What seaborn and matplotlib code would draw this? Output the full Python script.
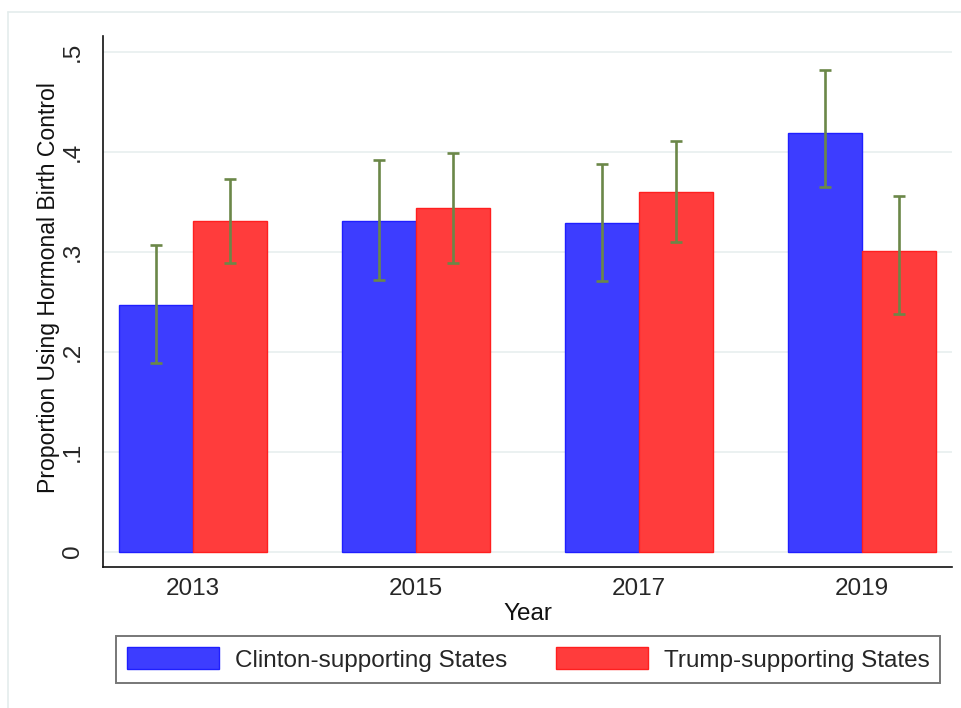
import numpy as np
import pandas as pd
import matplotlib.pyplot as plt
import matplotlib.lines as mlines
import seaborn as sns

# ── data ────────────────────────────────────────────────────────────
years = ["2013", "2015", "2017", "2019"]
groups = ["Clinton-supporting States", "Trump-supporting States"]

clinton = np.array([0.247, 0.331, 0.329, 0.419])
clinton_lo = np.array([0.189, 0.272, 0.271, 0.365])
clinton_hi = np.array([0.307, 0.392, 0.388, 0.482])

trump = np.array([0.331, 0.344, 0.360, 0.301])
trump_lo = np.array([0.289, 0.289, 0.310, 0.238])
trump_hi = np.array([0.373, 0.399, 0.411, 0.356])

yticks = [0, 0.1, 0.2, 0.3, 0.4, 0.5]
ytick_labels = ["0", ".1", ".2", ".3", ".4", ".5"]

# ── colours ─────────────────────────────────────────────────────────
blue = "#3d3dff"
red = "#ff3c3c"
ci_green = "#6b8748"
grid_col = "#e8efef"

df = pd.DataFrame({
    "Year": years * 2,
    "Proportion": np.concatenate([clinton, trump]),
    "Group": [groups[0]] * len(years) + [groups[1]] * len(years),
})

# ── figure ──────────────────────────────────────────────────────────
sns.set_style("white")
plt.rcParams["font.family"] = ["Liberation Sans", "DejaVu Sans"]

fig = plt.figure(figsize=(9.61, 7.08), dpi=100)
ax = fig.add_axes([103 / 961, 1 - 567 / 708, (952 - 103) / 961, (567 - 36) / 708])

sns.barplot(
    data=df, x="Year", y="Proportion", hue="Group",
    palette=[blue, red], saturation=1, width=0.66, gap=0, errorbar=None,
    legend=False, ax=ax, zorder=2,
)

# bar edges a shade darker
for cont, ec in zip(ax.containers, ["#1f1fff", "#ff1f1f"]):
    for p in cont:
        p.set_edgecolor(ec)
        p.set_linewidth(1.0)

# confidence intervals
for cont, vals, lo, hi in zip(ax.containers, [clinton, trump],
                              [clinton_lo, trump_lo], [clinton_hi, trump_hi]):
    xs = [p.get_x() + p.get_width() / 2 for p in cont]
    ax.errorbar(xs, vals, yerr=[vals - lo, hi - vals], fmt="none",
                ecolor=ci_green, elinewidth=1.9, capsize=4.4, capthick=1.9,
                zorder=3)

ax.set_xlim(-0.404, 3.404)
ax.set_ylim(-0.0155, 0.5157)
ax.set_yticks(yticks)
ax.set_yticklabels(ytick_labels, rotation=90, va="center")
ax.yaxis.grid(True, color=grid_col, linewidth=1.2, zorder=0)
ax.set_axisbelow(True)

ax.tick_params(axis="y", length=7, width=1, color="#222222", pad=7, labelsize=17.5)
ax.tick_params(axis="x", length=0, pad=8, labelsize=17.5)
ax.set_xlabel("Year", fontsize=17.5, labelpad=2, color="#111111")
ax.set_ylabel("Proportion Using Hormonal Birth Control", fontsize=16.6,
              color="#111111")
ax.yaxis.set_label_coords(-0.051, 0.527)

sns.despine(ax=ax)
for side in ["left", "bottom"]:
    ax.spines[side].set_color("#111111")
    ax.spines[side].set_linewidth(1.2)

# legend
leg = fig.legend(
    ax.containers, groups, loc="center", bbox_to_anchor=(528 / 961, 1 - 659.5 / 708),
    ncol=2, fontsize=17.5, frameon=True, fancybox=False,
    handlelength=3.8, handleheight=1.0, handletextpad=0.65,
    columnspacing=2.0, borderpad=0.45,
)
leg.get_frame().set_edgecolor("#555555")
leg.get_frame().set_linewidth(1.4)

# faint outer frame (top and left)
fig.add_artist(mlines.Line2D([8 / 961, 1], [1 - 12 / 708] * 2, color="#e4ecec",
                             linewidth=1.2, transform=fig.transFigure))
fig.add_artist(mlines.Line2D([8 / 961] * 2, [0, 1 - 12 / 708], color="#e4ecec",
                             linewidth=1.2, transform=fig.transFigure))

fig.savefig("out.png", dpi=100)
plt.close(fig)
